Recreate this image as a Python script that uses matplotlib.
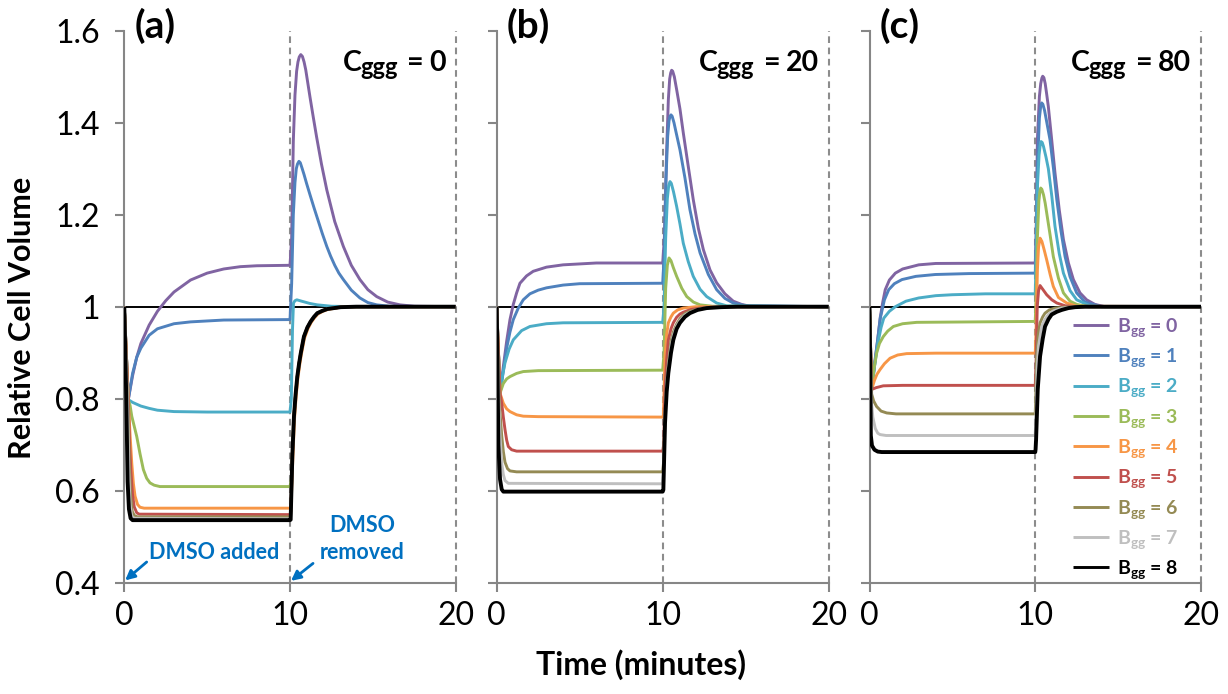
import matplotlib
matplotlib.use('Agg')
import matplotlib.pyplot as plt

plt.rcParams['font.family'] = ['Lato', 'DejaVu Sans']
plt.rcParams['mathtext.fontset'] = 'custom'
plt.rcParams['mathtext.rm'] = 'Lato'
plt.rcParams['mathtext.bf'] = 'Lato:bold'
plt.rcParams['mathtext.it'] = 'Lato:italic'

# ---------------- data (time in minutes, relative cell volume) ----------------
B_LEVELS = [0, 1, 2, 3, 4, 5, 6, 7, 8]
C_LEVELS = [0, 20, 80]
PANEL_LABELS = ['(a)', '(b)', '(c)']
X_TICKS = [0, 10, 20]
Y_TICKS = [0.4, 0.6, 0.8, 1.0, 1.2, 1.4, 1.6]
Y_TICK_LABELS = ['0.4', '0.6', '0.8', '1', '1.2', '1.4', '1.6']
COLORS = ['#8064A2', '#4F81BD', '#4BACC6', '#9BBB59', '#F79646',
          '#C0504D', '#948A54', '#BFBFBF', '#000000']

# Panel (a): Cggg = 0
a0 = [(0, 1.0), (0.24, 0.798), (0.5, 0.85), (0.75, 0.89), (1.0, 0.92), (1.5, 0.96), (2.0, 0.99),
      (2.5, 1.013), (3.0, 1.032), (4.0, 1.058), (5.0, 1.073), (6.0, 1.082), (7.0, 1.087), (8.0, 1.089),
      (10.0, 1.09), (10.1, 1.15), (10.2, 1.36), (10.3, 1.46), (10.4, 1.512), (10.48, 1.532),
      (10.56, 1.543), (10.65, 1.548), (10.75, 1.544), (10.85, 1.532), (10.95, 1.515), (11.08, 1.485),
      (11.21, 1.455), (11.4, 1.413), (11.61, 1.368), (11.9, 1.31), (12.22, 1.254), (12.7, 1.185),
      (13.22, 1.131), (13.7, 1.09), (14.22, 1.059), (14.7, 1.037), (15.23, 1.022), (15.9, 1.01),
      (16.64, 1.004), (17.5, 1.001), (20, 1.0)]
a1 = [(0, 1.0), (0.24, 0.798), (0.5, 0.855), (0.75, 0.89), (1.0, 0.91), (1.5, 0.938), (2.0, 0.952),
      (3.0, 0.963), (4.0, 0.967), (6.0, 0.971), (10.0, 0.972), (10.1, 1.05), (10.2, 1.2), (10.3, 1.27),
      (10.38, 1.3), (10.45, 1.31), (10.54, 1.316), (10.62, 1.313), (10.72, 1.302), (10.85, 1.287),
      (11.0, 1.268), (11.21, 1.243), (11.45, 1.215), (11.7, 1.187), (11.95, 1.159), (12.22, 1.131),
      (12.45, 1.11), (12.7, 1.09), (12.95, 1.073), (13.22, 1.059), (13.7, 1.036), (14.22, 1.019),
      (14.7, 1.009), (15.23, 1.004), (16, 1.001), (20, 1.0)]
a2 = [(0, 1.0), (0.24, 0.798), (0.5, 0.792), (1.0, 0.784), (1.5, 0.779), (2.0, 0.775), (3.0, 0.772),
      (5.0, 0.771), (10.0, 0.771), (10.08, 0.80), (10.15, 0.95), (10.21, 1.008), (10.3, 1.013),
      (10.41, 1.015), (10.7, 1.012), (11.2, 1.007), (11.65, 1.004), (12.5, 1.001), (14, 1.0), (20, 1.0)]
a3 = [(0, 1.0), (0.24, 0.798), (0.35, 0.785), (0.45, 0.762), (0.6, 0.74), (0.75, 0.718), (0.95, 0.68),
      (1.15, 0.646), (1.35, 0.627), (1.55, 0.617), (1.8, 0.612), (2.15, 0.609), (10.0, 0.609),
      (10.1, 0.63), (10.14, 0.675), (10.24, 0.762), (10.34, 0.81), (10.44, 0.848), (10.55, 0.877),
      (10.65, 0.899), (10.84, 0.935), (11.05, 0.955), (11.25, 0.968), (11.45, 0.978), (11.65, 0.986),
      (11.95, 0.991), (12.25, 0.995), (13.06, 0.999), (14, 1.0), (20, 1.0)]
a4 = [(0, 1.0), (0.24, 0.798), (0.35, 0.72), (0.45, 0.66), (0.55, 0.615), (0.65, 0.588), (0.8, 0.57),
      (0.95, 0.564), (1.2, 0.562), (10.0, 0.562), (10.06, 0.565), (10.16, 0.66), (10.27, 0.755),
      (10.37, 0.805), (10.47, 0.843), (10.58, 0.872), (10.68, 0.895), (10.87, 0.931), (11.08, 0.952),
      (11.28, 0.966), (11.48, 0.976), (11.68, 0.984), (11.98, 0.99), (12.28, 0.994), (13.1, 0.999),
      (14, 1.0), (20, 1.0)]
a5 = [(0, 1.0), (0.24, 0.798), (0.32, 0.70), (0.4, 0.64), (0.5, 0.59), (0.6, 0.565), (0.75, 0.552),
      (0.9, 0.549), (10.0, 0.548), (10.05, 0.555), (10.14, 0.675), (10.24, 0.762), (10.34, 0.81),
      (10.44, 0.848), (10.55, 0.877), (10.65, 0.899), (10.84, 0.935), (11.05, 0.955), (11.25, 0.968),
      (11.45, 0.978), (11.65, 0.986), (11.95, 0.991), (12.25, 0.995), (13.06, 0.999), (14, 1.0), (20, 1.0)]
a6 = [(0, 1.0), (0.22, 0.79), (0.3, 0.66), (0.38, 0.59), (0.48, 0.555), (0.6, 0.546), (0.8, 0.543),
      (10.0, 0.543), (10.05, 0.55), (10.14, 0.675), (10.24, 0.762), (10.34, 0.81), (10.44, 0.848),
      (10.55, 0.877), (10.65, 0.899), (10.84, 0.935), (11.05, 0.955), (11.25, 0.968), (11.45, 0.978),
      (11.65, 0.986), (11.95, 0.991), (12.25, 0.995), (13.06, 0.999), (14, 1.0), (20, 1.0)]
a7 = [(0, 1.0), (0.2, 0.78), (0.27, 0.64), (0.35, 0.57), (0.45, 0.545), (0.6, 0.54), (10.0, 0.539),
      (10.05, 0.545), (10.14, 0.675), (10.24, 0.762), (10.34, 0.81), (10.44, 0.848), (10.55, 0.877),
      (10.65, 0.899), (10.84, 0.935), (11.05, 0.955), (11.25, 0.968), (11.45, 0.978), (11.65, 0.986),
      (11.95, 0.991), (12.25, 0.995), (13.06, 0.999), (14, 1.0), (20, 1.0)]
a8 = [(0, 1.0), (0.12, 0.80), (0.2, 0.62), (0.28, 0.56), (0.38, 0.54), (0.5, 0.536), (10.0, 0.536),
      (10.04, 0.537), (10.14, 0.675), (10.24, 0.762), (10.34, 0.81), (10.44, 0.848), (10.55, 0.877),
      (10.65, 0.899), (10.84, 0.935), (11.05, 0.955), (11.25, 0.968), (11.45, 0.978), (11.65, 0.986),
      (11.95, 0.991), (12.25, 0.995), (13.06, 0.999), (14, 1.0), (20, 1.0)]

# Panel (b): Cggg = 20
b0 = [(0, 1.0), (0.2, 0.812), (0.4, 0.87), (0.6, 0.925), (0.8, 0.972), (1.0, 1.005), (1.2, 1.03),
      (1.4, 1.051), (1.8, 1.067), (2.2, 1.077), (3.0, 1.086), (4.0, 1.091), (6.0, 1.095), (10.0, 1.095),
      (10.1, 1.15), (10.24, 1.341), (10.34, 1.45), (10.42, 1.495), (10.48, 1.508), (10.54, 1.514),
      (10.6, 1.512), (10.7, 1.50), (10.84, 1.472), (11.04, 1.43), (11.24, 1.378), (11.54, 1.305),
      (11.84, 1.233), (12.15, 1.17), (12.45, 1.124), (12.85, 1.08), (13.25, 1.052), (13.75, 1.028),
      (14.25, 1.012), (14.75, 1.005), (15.25, 1.001), (20, 1.0)]
b1 = [(0, 1.0), (0.2, 0.812), (0.4, 0.86), (0.6, 0.91), (0.8, 0.945), (1.0, 0.972), (1.3, 0.997),
      (1.6, 1.015), (2.0, 1.028), (2.5, 1.036), (3.0, 1.041), (4.0, 1.047), (5.0, 1.05), (10.0, 1.051),
      (10.1, 1.12), (10.2, 1.28), (10.3, 1.37), (10.38, 1.404), (10.44, 1.414), (10.5, 1.417),
      (10.57, 1.414), (10.68, 1.40), (10.8, 1.38), (11.04, 1.341), (11.34, 1.28), (11.64, 1.211),
      (11.95, 1.158), (12.25, 1.117), (12.75, 1.07), (13.25, 1.037), (13.75, 1.018), (14.25, 1.008),
      (15.0, 1.002), (20, 1.0)]
b2 = [(0, 1.0), (0.2, 0.812), (0.35, 0.85), (0.5, 0.878), (0.75, 0.908), (1.0, 0.928), (1.5, 0.948),
      (2.0, 0.957), (3.0, 0.963), (4.0, 0.965), (10.0, 0.966), (10.08, 1.0), (10.18, 1.15), (10.28, 1.235),
      (10.36, 1.263), (10.44, 1.272), (10.52, 1.268), (10.65, 1.25), (10.84, 1.218), (11.04, 1.18),
      (11.24, 1.138), (11.54, 1.098), (11.84, 1.066), (12.25, 1.038), (12.65, 1.022), (13.25, 1.008),
      (13.85, 1.002), (20, 1.0)]
b3 = [(0, 1.0), (0.2, 0.812), (0.4, 0.833), (0.6, 0.843), (0.8, 0.848), (1.2, 0.855), (1.6, 0.859),
      (2.5, 0.861), (10.0, 0.862), (10.08, 0.9), (10.18, 1.04), (10.28, 1.09), (10.38, 1.106),
      (10.5, 1.10), (10.64, 1.085), (10.84, 1.066), (11.15, 1.04), (11.45, 1.022), (11.85, 1.01),
      (12.25, 1.004), (13.0, 1.001), (20, 1.0)]
b4 = [(0, 1.0), (0.2, 0.812), (0.4, 0.79), (0.6, 0.778), (0.8, 0.772), (1.2, 0.765), (1.6, 0.762),
      (2.5, 0.761), (10.0, 0.760), (10.04, 0.762), (10.1, 0.84), (10.14, 0.892), (10.24, 0.94),
      (10.34, 0.965), (10.5, 0.978), (10.64, 0.986), (10.9, 0.993), (11.24, 0.997), (12.0, 1.0), (20, 1.0)]
b5 = [(0, 1.0), (0.2, 0.812), (0.3, 0.79), (0.4, 0.76), (0.5, 0.733), (0.6, 0.71), (0.7, 0.696),
      (0.9, 0.689), (1.2, 0.686), (10.0, 0.686), (10.06, 0.70), (10.14, 0.82), (10.24, 0.885),
      (10.34, 0.928), (10.5, 0.952), (10.64, 0.965), (10.84, 0.977), (11.04, 0.984), (11.24, 0.988),
      (11.7, 0.994), (12.25, 0.997), (13.0, 0.999), (14.0, 1.0), (20, 1.0)]
b6 = [(0, 1.0), (0.15, 0.80), (0.2, 0.77), (0.3, 0.72), (0.4, 0.685), (0.5, 0.662), (0.65, 0.648),
      (0.8, 0.643), (1.2, 0.641), (10.0, 0.641), (10.05, 0.66), (10.14, 0.77), (10.24, 0.84),
      (10.34, 0.88), (10.5, 0.925), (10.64, 0.945), (10.84, 0.962), (11.04, 0.974), (11.34, 0.985),
      (11.64, 0.99), (12.25, 0.996), (13.0, 0.999), (14.0, 1.0), (20, 1.0)]
b7 = [(0, 1.0), (0.12, 0.80), (0.2, 0.72), (0.3, 0.66), (0.4, 0.635), (0.5, 0.622), (0.7, 0.616),
      (10.0, 0.615), (10.05, 0.64), (10.14, 0.76), (10.24, 0.83), (10.34, 0.87), (10.5, 0.915),
      (10.64, 0.938), (10.84, 0.958), (11.04, 0.97), (11.34, 0.982), (11.64, 0.988), (12.25, 0.995),
      (13.0, 0.999), (14.0, 1.0), (20, 1.0)]
b8 = [(0, 1.0), (0.04, 0.9), (0.1, 0.70), (0.2, 0.625), (0.3, 0.603), (0.4, 0.598), (10.0, 0.598),
      (10.04, 0.602), (10.14, 0.747), (10.24, 0.815), (10.34, 0.856), (10.5, 0.90), (10.64, 0.928),
      (10.84, 0.952), (11.04, 0.965), (11.34, 0.978), (11.64, 0.986), (12.1, 0.993), (12.65, 0.997),
      (13.5, 0.999), (14.5, 1.0), (20, 1.0)]

# Panel (c): Cggg = 80
c0 = [(0, 1.0), (0.13, 0.82), (0.3, 0.875), (0.5, 0.93), (0.65, 0.977), (0.8, 1.01), (0.95, 1.037),
      (1.2, 1.058), (1.56, 1.073), (2.0, 1.082), (2.97, 1.091), (4.0, 1.094), (10.0, 1.095),
      (10.05, 1.15), (10.13, 1.363), (10.25, 1.457), (10.33, 1.485), (10.4, 1.497), (10.45, 1.501),
      (10.52, 1.498), (10.6, 1.485), (10.69, 1.462), (10.79, 1.435), (11.0, 1.36), (11.19, 1.291),
      (11.45, 1.21), (11.7, 1.146), (12.0, 1.095), (12.3, 1.059), (12.7, 1.03), (13.1, 1.015),
      (13.6, 1.005), (14.2, 1.0), (20, 1.0)]
c1 = [(0, 1.0), (0.13, 0.82), (0.3, 0.87), (0.5, 0.93), (0.65, 0.975), (0.9, 1.015), (1.16, 1.037),
      (1.5, 1.05), (1.96, 1.059), (2.8, 1.066), (3.97, 1.07), (6.0, 1.072), (10.0, 1.073), (10.05, 1.13),
      (10.13, 1.30), (10.25, 1.41), (10.33, 1.436), (10.39, 1.443), (10.46, 1.44), (10.56, 1.427),
      (10.7, 1.40), (10.89, 1.363), (11.1, 1.30), (11.3, 1.233), (11.55, 1.165), (11.8, 1.109),
      (12.1, 1.065), (12.5, 1.03), (13.0, 1.01), (13.5, 1.005), (14.0, 1.0), (20, 1.0)]
c2 = [(0, 1.0), (0.13, 0.82), (0.3, 0.87), (0.5, 0.92), (0.7, 0.955), (0.86, 0.975), (1.2, 0.99),
      (1.56, 1.0), (2.2, 1.012), (2.97, 1.019), (4.0, 1.024), (4.98, 1.026), (7.0, 1.028), (10.0, 1.028),
      (10.05, 1.10), (10.13, 1.26), (10.23, 1.33), (10.3, 1.352), (10.35, 1.359), (10.42, 1.357),
      (10.5, 1.348), (10.65, 1.325), (10.79, 1.3), (11.0, 1.24), (11.19, 1.175), (11.45, 1.115),
      (11.7, 1.073), (12.1, 1.035), (12.5, 1.015), (13.3, 1.002), (14.0, 1.0), (20, 1.0)]
c3 = [(0, 1.0), (0.13, 0.82), (0.25, 0.86), (0.43, 0.899), (0.6, 0.92), (0.83, 0.935), (1.1, 0.947),
      (1.44, 0.957), (2.0, 0.963), (2.85, 0.966), (10.0, 0.968), (10.05, 1.02), (10.13, 1.15),
      (10.22, 1.23), (10.28, 1.25), (10.33, 1.258), (10.4, 1.255), (10.5, 1.243), (10.6, 1.225),
      (10.69, 1.204), (10.9, 1.155), (11.09, 1.109), (11.4, 1.062), (11.7, 1.03), (12.1, 1.012),
      (12.5, 1.005), (13.2, 1.0), (20, 1.0)]
c4 = [(0, 1.0), (0.13, 0.82), (0.3, 0.84), (0.45, 0.853), (0.63, 0.863), (0.9, 0.876), (1.24, 0.888),
      (1.7, 0.895), (2.24, 0.898), (4.0, 0.899), (10.0, 0.899), (10.05, 0.95), (10.13, 1.08),
      (10.2, 1.13), (10.29, 1.149), (10.4, 1.142), (10.55, 1.122), (10.69, 1.102), (10.9, 1.07),
      (11.09, 1.044), (11.4, 1.02), (11.9, 1.008), (12.5, 1.001), (20, 1.0)]
c5 = [(0, 1.0), (0.13, 0.82), (0.4, 0.824), (0.83, 0.828), (2.0, 0.829), (10.0, 0.829), (10.05, 0.88),
      (10.12, 1.0), (10.2, 1.035), (10.29, 1.046), (10.45, 1.038), (10.69, 1.026), (11.0, 1.015),
      (11.3, 1.008), (11.8, 1.002), (12.5, 1.0), (20, 1.0)]
c6 = [(0, 1.0), (0.13, 0.81), (0.25, 0.795), (0.43, 0.783), (0.7, 0.773), (1.04, 0.769), (1.6, 0.767),
      (10.0, 0.767), (10.03, 0.80), (10.08, 0.892), (10.18, 0.94), (10.29, 0.965), (10.45, 0.978),
      (10.59, 0.986), (10.85, 0.993), (11.2, 0.997), (11.8, 0.999), (12.5, 1.0), (20, 1.0)]
c7 = [(0, 1.0), (0.1, 0.80), (0.2, 0.76), (0.35, 0.735), (0.5, 0.725), (0.64, 0.722), (1.0, 0.72),
      (10.0, 0.72), (10.04, 0.76), (10.12, 0.87), (10.2, 0.915), (10.39, 0.957), (10.6, 0.973),
      (10.79, 0.983), (11.1, 0.991), (11.6, 0.997), (12.3, 0.999), (13.0, 1.0), (20, 1.0)]
c8 = [(0, 1.0), (0.05, 0.85), (0.08, 0.72), (0.15, 0.698), (0.3, 0.689), (0.5, 0.685), (0.74, 0.684),
      (10.0, 0.684), (10.02, 0.69), (10.05, 0.711), (10.15, 0.82), (10.29, 0.892), (10.45, 0.93),
      (10.59, 0.957), (10.8, 0.973), (10.99, 0.983), (11.3, 0.989), (11.6, 0.993), (12.0, 0.997),
      (12.4, 0.999), (13.0, 1.0), (20, 1.0)]

PANEL_A = [a0, a1, a2, a3, a4, a5, a6, a7, a8]
PANEL_B = [b0, b1, b2, b3, b4, b5, b6, b7, b8]
PANEL_C = [c0, c1, c2, c3, c4, c5, c6, c7, c8]
PANELS = [PANEL_A, PANEL_B, PANEL_C]

# ---------------- layout ----------------
W, H = 1228, 694
fig = plt.figure(figsize=(W / 100, H / 100), dpi=100)
fig.patch.set_facecolor('white')
renderer = fig.canvas.get_renderer()

AX_TOP, AX_BOT = 30.7, 582.7
PANEL_X = [(124.3, 455.7), (496.7, 828.7), (869.5, 1201.0)]
SPINE = '#868686'
DASH = '#8C8C8C'

def fx(px):
    return px / W

def fy(py):
    return 1 - py / H

def rich_text_right(x_right, baseline, parts):
    """parts: list of (string, fontsize, baseline shift px, gap after px)."""
    objs = []
    widths = []
    for s, size, dy, gap in parts:
        t = fig.text(0, 0, s, fontsize=size, fontweight='bold', ha='left', va='baseline')
        objs.append(t)
        widths.append(t.get_window_extent(renderer).width)
    total = sum(widths) + sum(p[3] for p in parts[:-1])
    x = x_right - total
    for t, w, (s, size, dy, gap) in zip(objs, widths, parts):
        t.set_position((fx(x), fy(baseline + dy)))
        x += w + gap

axes = []
for k, (x0, x1) in enumerate(PANEL_X):
    ax = fig.add_axes([fx(x0), fy(AX_BOT), (x1 - x0) / W, (AX_BOT - AX_TOP) / H])
    axes.append(ax)
    ax.set_xlim(0, 20)
    ax.set_ylim(0.4, 1.6)
    for s in ['top', 'right']:
        ax.spines[s].set_visible(False)
    for s in ['left', 'bottom']:
        ax.spines[s].set_color(SPINE)
        ax.spines[s].set_linewidth(1.5)
    ax.set_xticks(X_TICKS)
    ax.set_xticklabels([str(v) for v in X_TICKS])
    ax.set_yticks(Y_TICKS)
    if k == 0:
        ax.set_yticklabels(Y_TICK_LABELS)
    else:
        ax.set_yticklabels([])
    ax.tick_params(axis='both', direction='out', length=6.5, width=1.5, color=SPINE,
                   labelsize=23, labelcolor='black')
    ax.tick_params(axis='y', pad=11)
    ax.tick_params(axis='x', pad=7)
    ax.axhline(1.0, color='black', lw=1.4, zorder=2)
    ax.axvline(10, color=DASH, lw=1.5, ls=(0, (3.2, 2.2)), zorder=1)
    ax.axvline(20, color=DASH, lw=1.5, ls=(0, (3.2, 2.2)), zorder=1, clip_on=False)

    for i, curve in enumerate(PANELS[k]):
        t = [p[0] for p in curve]
        v = [p[1] for p in curve]
        lw = 2.8 if i == 8 else 2.1
        ax.plot(t, v, color=COLORS[i], lw=lw, zorder=3 + i,
                solid_joinstyle='round', solid_capstyle='butt',
                label=r'B$_{\mathbf{gg}}$ = %d' % B_LEVELS[i])

    fig.text(fx(x0 + 10), fy(26), PANEL_LABELS[k], fontsize=28, fontweight='bold',
             ha='left', va='center')
    rich_text_right(x1 - 10, 71, [('C', 20.5, 0, -1.5), ('ggg', 17, 4, 10),
                                  ('=', 20.5, 0, 5), ('%d' % C_LEVELS[k], 20.5, 0, 0)])

# legend in panel (c)
leg = axes[2].legend(loc='upper left', bbox_to_anchor=(fx(1072.7), fy(316)),
                     bbox_transform=fig.transFigure, frameon=False, borderpad=0,
                     borderaxespad=0, handlelength=1.85, handletextpad=0.45,
                     labelspacing=0.38, labelcolor='linecolor',
                     prop={'weight': 'bold', 'size': 14})
for line in leg.get_lines():
    line.set_linewidth(2.1)

# annotations in panel (a)
BLUE = '#0070C0'
axa = axes[0]
axa.text(5.41, 0.465, 'DMSO added', color=BLUE, fontsize=15.5, fontweight='bold',
         ha='center', va='center')
axa.text(14.35, 0.495, 'DMSO\nremoved', color=BLUE, fontsize=15.5, fontweight='bold',
         ha='center', va='center', linespacing=1.4)
arrow = dict(arrowstyle='-|>', color=BLUE, lw=2, mutation_scale=14, shrinkA=0, shrinkB=0)
axa.annotate('', xy=(0.05, 0.405), xytext=(1.35, 0.445), arrowprops=arrow, annotation_clip=False)
axa.annotate('', xy=(10.06, 0.404), xytext=(11.39, 0.442), arrowprops=arrow, annotation_clip=False)

fig.text(fx(641), fy(665), 'Time (minutes)', fontsize=23, fontweight='bold', ha='center', va='center')
fig.text(fx(22), fy(318), 'Relative Cell Volume', fontsize=22, fontweight='bold', ha='center',
         va='center', rotation=90)

fig.savefig('out.png', dpi=100, facecolor='white')
